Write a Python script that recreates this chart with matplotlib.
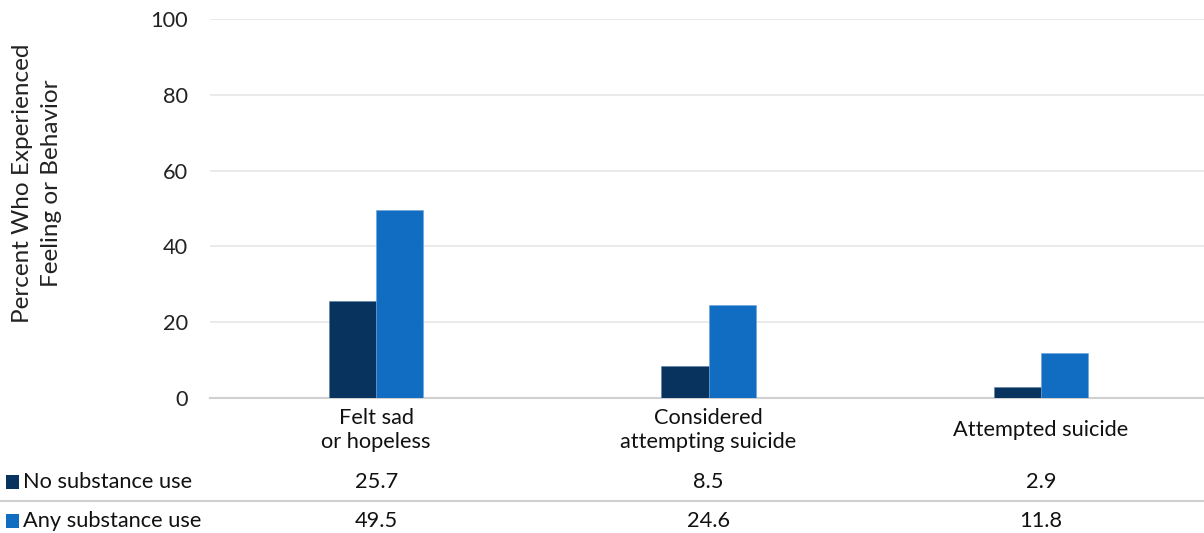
import matplotlib
matplotlib.use("Agg")
import matplotlib.pyplot as plt
import matplotlib.transforms as mtransforms
from matplotlib.lines import Line2D
from matplotlib.patches import Rectangle
import numpy as np

categories = ["Felt sad\nor hopeless", "Considered\nattempting suicide", "Attempted suicide"]
series_names = ["No substance use", "Any substance use"]
no_use = [25.7, 8.5, 2.9]
any_use = [49.5, 24.6, 11.8]
yticks = [0, 20, 40, 60, 80, 100]
colors = ["#08335E", "#116DC2"]

plt.rcParams['font.family'] = ['Lato', 'DejaVu Sans']

W, H = 1204, 533
FS = 15.7
fig = plt.figure(figsize=(W/100, H/100), dpi=100)
ax = fig.add_axes([210/W, 1-398/H, (1207-210)/W, (398-19)/H])

x = np.arange(len(categories))
bw = 0.142
ax.bar(x - bw/2, no_use, bw, color=colors[0], edgecolor="#5b7fa6", linewidth=0.4, zorder=3)
ax.bar(x + bw/2, any_use, bw, color=colors[1], edgecolor="#6aa3db", linewidth=0.4, zorder=3)

ax.set_xlim(-0.5, 2.5)
ax.set_ylim(0, 100)
ax.set_yticks(yticks)
ax.set_yticklabels([str(v) for v in yticks], fontsize=FS, color="#222222")
ax.tick_params(axis='y', length=0, pad=16)
ax.set_xticks([])
ax.grid(axis='y', color="#E8E8E8", linewidth=1.3, zorder=0)
for s in ["top", "right", "left"]:
    ax.spines[s].set_visible(False)
ax.spines["bottom"].set_color("#D0D0D0")
ax.spines["bottom"].set_linewidth(1.5)

ax.set_ylabel("Percent Who Experienced\nFeeling or Behavior", fontsize=17.5, color="#222222",
              linespacing=1.45, va="center", ha="center")
ax.yaxis.set_label_coords((37 - 210) / 997, (398 - 183) / 379)

tr = mtransforms.blended_transform_factory(ax.transData, fig.transFigure)
def fy(py):
    return 1 - py / H

for xi, c in zip(x, categories):
    fig.text(xi, fy(430), c, transform=tr, ha="center", va="center", fontsize=FS,
             color="#111111", linespacing=1.25)
for xi, v in zip(x, no_use):
    fig.text(xi, fy(482), f"{v:.1f}", transform=tr, ha="center", va="center", fontsize=FS, color="#111111")
for xi, v in zip(x, any_use):
    fig.text(xi, fy(521), f"{v:.1f}", transform=tr, ha="center", va="center", fontsize=FS, color="#111111")

fig.add_artist(Line2D([0, 1], [fy(501), fy(501)], transform=fig.transFigure, color="#D0D0D0", linewidth=1.5))

for py, name, col in [(482, series_names[0], colors[0]), (521, series_names[1], colors[1])]:
    fig.add_artist(Rectangle((6/W, fy(py + 7)), 13/W, 14/H, transform=fig.transFigure,
                             facecolor=col, edgecolor="none"))
    fig.text(23/W, fy(py), name, ha="left", va="center", fontsize=FS, color="#111111")

fig.savefig("out.png", dpi=100, facecolor="white")
